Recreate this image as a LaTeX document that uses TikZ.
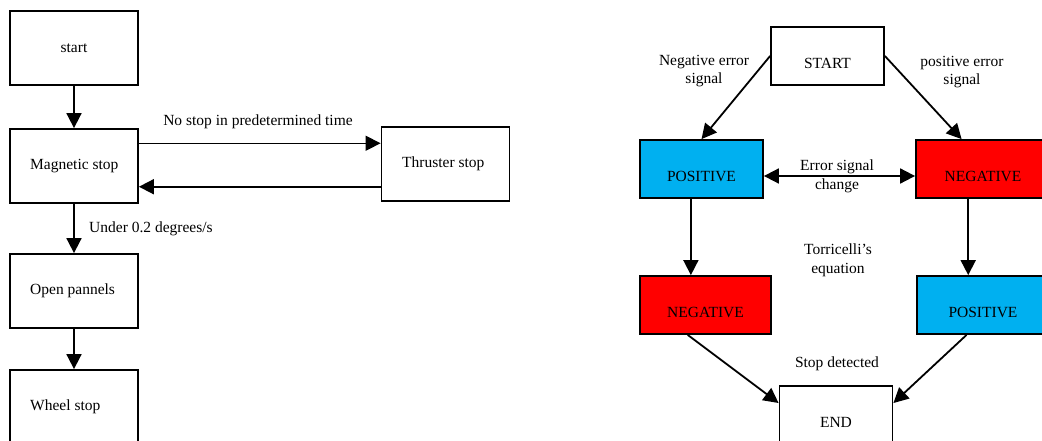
\documentclass[tikz,border=0pt]{standalone}
\usepackage{fontspec}
\setmainfont{Liberation Serif}
\usetikzlibrary{arrows.meta,calc}
\definecolor{posblue}{HTML}{00B0F0}
\definecolor{negred}{HTML}{FF0000}
\begin{document}
\begin{tikzpicture}[x=1pt,y=-1pt,
  txt/.style={font=\fontsize{15.5}{18.5}\selectfont, inner sep=0pt, align=center},
  box/.style={draw=black, line width=1.8pt, rectangle, inner sep=0pt},
  lbox/.style={box, minimum width=128pt, minimum height=74pt},
  sbox/.style={box, minimum width=113pt, minimum height=58pt},
  cbox/.style={box, minimum width=131pt, minimum height=58pt},
  arr/.style={line width=1.8pt, -{Triangle[length=15pt,width=15pt]}},
  darr/.style={line width=1.8pt, {Triangle[length=15pt,width=15pt]}-{Triangle[length=15pt,width=15pt]}}]
\useasboundingbox (0,0) rectangle (1042,441);
\clip (0,0) rectangle (1042,441);

% ---------- left flow: stopping sequence ----------
\node[lbox] (start) at (74,48) {};
\node[txt] (startt) at (74,48) {start};
\node[lbox] (mag) at (74,166) {};
\node[txt, anchor=west] (magt) at (30,166) {Magnetic stop};
\node[lbox] (thr) at (445.5,164) {};
\node[txt, anchor=west] (thrt) at (402,164) {Thruster stop};
\node[lbox] (open) at (74,291) {};
\node[txt, anchor=west] (opent) at (30,291) {Open pannels};
\node[lbox] (wheel) at (74,407) {};
\node[txt, anchor=west] (wheelt) at (30,407) {Wheel stop};

\draw[arr] (start) -- (mag);
\coordinate (magout) at ($(mag.north east)!0.2!(mag.south east)$);
\coordinate (throut) at ($(thr.north west)!0.8!(thr.south west)$);
\draw[arr, line width=1.4pt] (magout) -- (magout -| thr.west);
\draw[arr] (throut) -- (throut -| mag.east);
\node[txt] (nostop) at (258,122) {No stop in predetermined time};
\draw[arr] (mag) -- (open);
\node[txt, anchor=west] (under) at (89,229) {Under 0.2 degrees/s};
\draw[arr] (open) -- (wheel);

% ---------- right flow: error signal logic ----------
\node[sbox] (st) at (827.5,56) {};
\node[txt] (stt) at (827.5,63) {START};
\node[box, fill=posblue, minimum width=123pt, minimum height=58pt] (p1) at (701.5,169) {};
\node[txt] (p1t) at (701.5,176) {POSITIVE};
\node[cbox, fill=negred] (n1) at (981.5,169) {};
\node[txt] (n1t) at (983,176) {NEGATIVE};
\node[cbox, fill=negred] (n2) at (705.5,305) {};
\node[txt] (n2t) at (705.5,312) {NEGATIVE};
\node[cbox, fill=posblue] (p2) at (982.5,305) {};
\node[txt] (p2t) at (983,312) {POSITIVE};
\node[sbox] (en) at (836,415) {};
\node[txt] (ent) at (836,422) {END};

\node[txt] (negsig) at (704,71) {Negative error\\signal};
\node[txt] (possig) at (962,72) {positive error\\signal};
\draw[arr] (st.west) -- (p1.north);
\draw[arr] (st.east) -- ($(n1.north west)!0.35!(n1.north east)$);

\draw[darr] ([yshift=-7pt]p1.east) -- ([yshift=-7pt]n1.west);
\node[txt] (errchg) at (837,176.5) {Error signal\\change};

\coordinate (p1out) at ($(p1.south west)!0.415!(p1.south east)$);
\coordinate (n1out) at ($(n1.south west)!0.4!(n1.south east)$);
\draw[arr] (p1out) -- (p1out |- n2.north);
\draw[arr] (n1out) -- (n1out |- p2.north);
\node[txt] (torr) at (838,260.5) {Torricelli’s\\equation};

\draw[arr] ($(n2.south west)!0.366!(n2.south east)$) -- ($(en.north west)!0.3!(en.south west)$);
\draw[arr] ($(p2.south west)!0.38!(p2.south east)$) -- ($(en.north east)!0.3!(en.south east)$);
\node[txt] (stopdet) at (837,364) {Stop detected};
\end{tikzpicture}
\end{document}
